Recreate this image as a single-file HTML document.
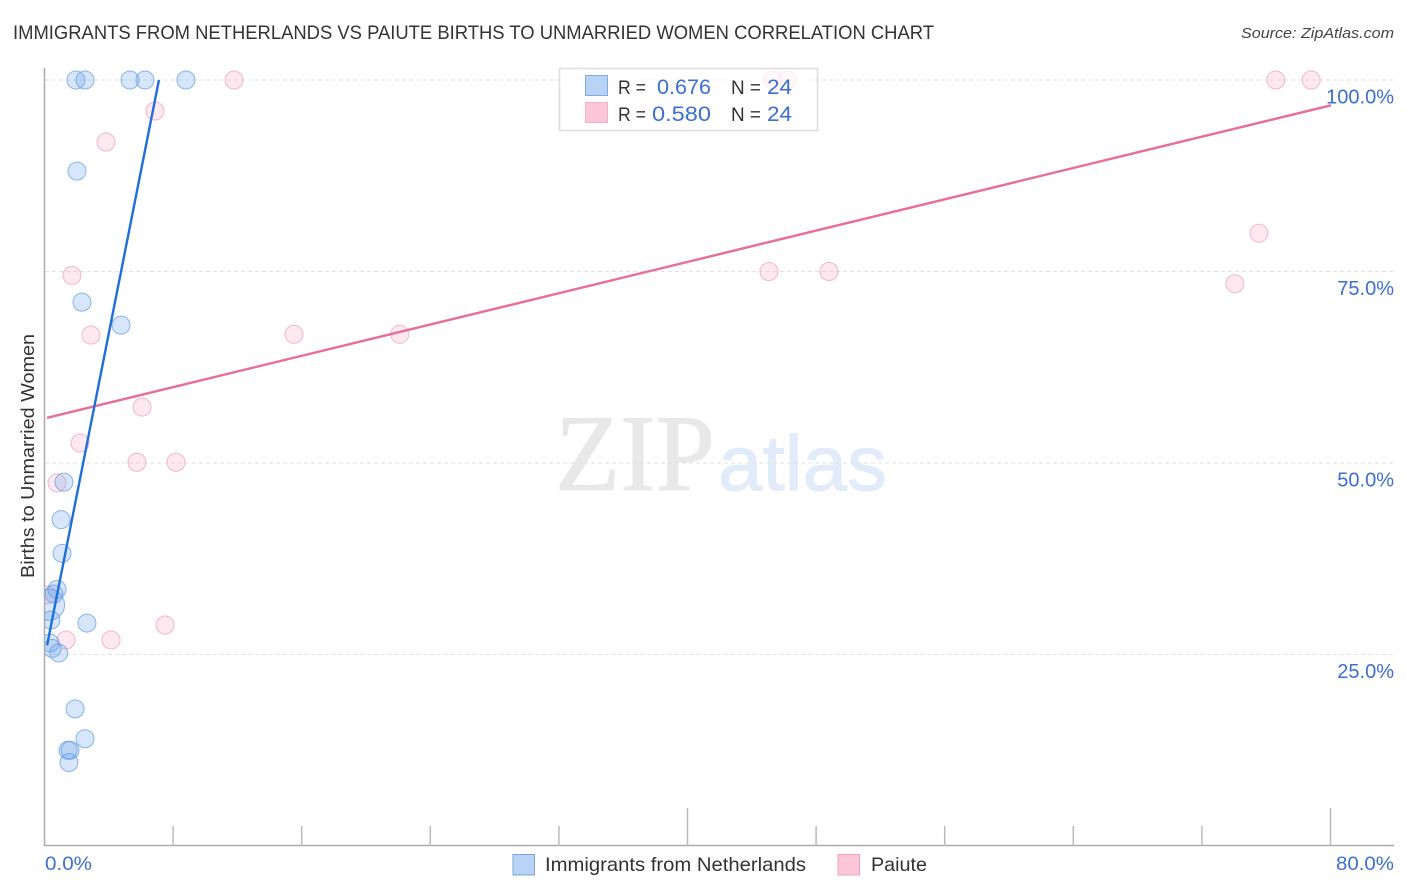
<!DOCTYPE html>
<html lang="en">
<head>
<meta charset="utf-8">
<title>Immigrants from Netherlands vs Paiute Births to Unmarried Women Correlation Chart</title>
<style>
html,body{margin:0;padding:0;background:#fff;}
svg{display:block;font-family:"Liberation Sans",sans-serif;}
</style>
</head>
<body>
<svg id="chart" width="1406" height="892" viewBox="0 0 1406 892" xmlns="http://www.w3.org/2000/svg">
  <defs><clipPath id="plot-clip"><rect x="45" y="60" width="1349" height="786"/></clipPath></defs>
  <rect width="1406" height="892" fill="#fff"/>
  <text x="13" y="39" font-size="19" fill="#333" textLength="921" lengthAdjust="spacingAndGlyphs">IMMIGRANTS FROM NETHERLANDS VS PAIUTE BIRTHS TO UNMARRIED WOMEN CORRELATION CHART</text>
  <text x="1241" y="38" font-size="15" font-style="italic" fill="#444" textLength="153" lengthAdjust="spacingAndGlyphs">Source: ZipAtlas.com</text>
  <g>
    <text x="555" y="490" font-family="'Liberation Serif',serif" font-size="109" fill="#e8e8e8" stroke="#e8e8e8" stroke-width="1" textLength="160" lengthAdjust="spacingAndGlyphs">ZIP</text>
    <text x="718" y="490" font-size="78" fill="#e2ebf9" stroke="#e2ebf9" stroke-width="1" textLength="169" lengthAdjust="spacingAndGlyphs">atlas</text>
  </g>
  <g id="grid"></g>
  <g id="axes"></g>
  <g id="points" clip-path="url(#plot-clip)"></g>
  <g id="trends"></g>
  <g id="ylabels"></g>
  <text transform="translate(34,578) rotate(-90)" font-size="18.5" fill="#333" textLength="244" lengthAdjust="spacingAndGlyphs">Births to Unmarried Women</text>
  <text x="45" y="870" font-size="19.5" fill="#3b6fd1" textLength="47" lengthAdjust="spacingAndGlyphs">0.0%</text>
  <text x="1336" y="870" font-size="19.5" fill="#3b6fd1" textLength="58" lengthAdjust="spacingAndGlyphs">80.0%</text>

  <g>
    <rect x="559.5" y="68.5" width="258" height="62" fill="#fff" fill-opacity="0.72" stroke="#ddd" stroke-width="1.5"/>
    <rect x="585.5" y="75.5" width="22" height="20" fill="#b9d3f7" stroke="#7eaae6" stroke-width="1"/>
    <rect x="585.5" y="102.5" width="22" height="20" fill="#fcc6d8" stroke="#f4afc6" stroke-width="1"/>
    <text x="618" y="94" font-size="19" fill="#333" textLength="28" lengthAdjust="spacingAndGlyphs">R =</text>
    <text x="657" y="94" font-size="21" fill="#3b6fd1" textLength="54" lengthAdjust="spacingAndGlyphs">0.676</text>
    <text x="731" y="94" font-size="19" fill="#333" textLength="30" lengthAdjust="spacingAndGlyphs">N =</text>
    <text x="767" y="94" font-size="21" fill="#3b6fd1" textLength="25" lengthAdjust="spacingAndGlyphs">24</text>
    <text x="618" y="121" font-size="19" fill="#333" textLength="28" lengthAdjust="spacingAndGlyphs">R =</text>
    <text x="652" y="121" font-size="21" fill="#3b6fd1" textLength="59" lengthAdjust="spacingAndGlyphs">0.580</text>
    <text x="731" y="121" font-size="19" fill="#333" textLength="30" lengthAdjust="spacingAndGlyphs">N =</text>
    <text x="767" y="121" font-size="21" fill="#3b6fd1" textLength="25" lengthAdjust="spacingAndGlyphs">24</text>
  </g>

  <g>
    <g>
      <rect x="513" y="854.5" width="21.5" height="20.5" fill="#b9d3f7" stroke="#7ea3d8" stroke-width="1"/>
      <text x="545" y="871" font-size="19.5" fill="#333" textLength="261" lengthAdjust="spacingAndGlyphs">Immigrants from Netherlands</text>
    </g>
    <g>
      <rect x="838" y="854.5" width="21.5" height="20.5" fill="#fcc6d8" stroke="#f0a0bc" stroke-width="1"/>
      <text x="871" y="871" font-size="19.5" fill="#333" textLength="56" lengthAdjust="spacingAndGlyphs">Paiute</text>
    </g>
  </g>
</svg>
<script>
// Values (x = % foreign-born group, y = % births to unmarried women)
const netherlandsX = [1.96,2.52,5.32,6.25,8.80,2.02,2.33,4.76,1.21,1.03,1.09,0.78,0.59,0.28,0.40,2.64,0.34,0.47,0.88,1.90,2.52,1.46,1.59,1.52];
const netherlandsY = [100,100,100,100,100,88.1,71.0,68.0,47.5,42.6,38.2,33.5,32.9,31.5,29.5,29.1,26.5,25.8,25.2,17.9,14.0,12.5,12.5,10.9];
const netherlandsWeight = [1,1,1,1,1,1,1,1,1,1,1,1,1,3,1,1,1,1,1,1,1,1,1,1];
const paiuteX = [11.79,45.32,46.19,76.6,78.8,6.87,3.83,1.71,2.89,15.52,22.1,45.07,48.8,75.55,74.05,6.07,2.21,5.75,8.18,0.78,0.16,1.34,4.14,7.5];
const paiuteY = [100,100,100,100,100,95.95,91.9,74.5,66.7,66.8,66.8,75,75,80.0,73.4,57.3,52.6,50.1,50.1,47.4,32.8,26.9,26.9,28.85];
const netherlandsTrendX = [0.16,7.12];
const netherlandsTrendY = [26.2,100];
const paiuteTrendX = [0.16,80.03];
const paiuteTrendY = [55.9,96.7];
const yTicks = [100,75,50,25];
const yTickLabels = ["100.0%","75.0%","50.0%","25.0%"];
const xTicks = [8,16,24,32,40,48,56,64,72,80];

const NS = "http://www.w3.org/2000/svg";
const sx = v => 44.5 + v * 16.075;
const sy = v => 846 - v * 7.66;
function mk(parent, tag, attrs) {
  const el = document.createElementNS(NS, tag);
  for (const k in attrs) el.setAttribute(k, attrs[k]);
  parent.appendChild(el);
  return el;
}
const grid = document.getElementById("grid");
const axes = document.getElementById("axes");
const points = document.getElementById("points");
const trends = document.getElementById("trends");
const ylabels = document.getElementById("ylabels");

yTicks.forEach((t, i) => {
  const line = mk(grid, "line", {x1: 45, x2: 1394, y1: sy(t), y2: sy(t), stroke: "#e2e2e2", "stroke-width": 1, "stroke-dasharray": "4 3"});
  
  
  const label = mk(ylabels, "text", {x: 1394, y: sy(t) + 23.5, "text-anchor": "end", "font-size": 20, fill: "#3b6fd1"});
  label.textContent = yTickLabels[i];
  
  
});

const yAxis = mk(axes, "line", {x1: 44.5, x2: 44.5, y1: 68, y2: 846, stroke: "#aaa", "stroke-width": 1.5});


const xAxis = mk(axes, "line", {x1: 44, x2: 1394, y1: 845.5, y2: 845.5, stroke: "#aaa", "stroke-width": 1.5});


xTicks.forEach(t => {
  const major = t % 40 === 0;
  const tick = mk(axes, "line", {x1: sx(t), x2: sx(t), y1: major ? 808 : 826, y2: 846, stroke: "#bbb", "stroke-width": 1.5});
  
  
});

paiuteX.forEach((x, i) => {
  const c = mk(points, "circle", {cx: sx(x), cy: sy(paiuteY[i]), r: 9, fill: "#f9a8c0", "fill-opacity": 0.25, stroke: "#ee9ab5", "stroke-opacity": 0.7, "stroke-width": 1});
  
  
});
netherlandsX.forEach((x, i) => {
  const c = mk(points, "circle", {cx: sx(x), cy: sy(netherlandsY[i]), r: 9 * Math.sqrt(netherlandsWeight[i]), fill: "#6ba3ec", "fill-opacity": 0.27, stroke: "#5e97e4", "stroke-opacity": 0.7, "stroke-width": 1});
  
  
});

const paiuteLine = mk(trends, "line", {x1: sx(paiuteTrendX[0]), y1: sy(paiuteTrendY[0]), x2: sx(paiuteTrendX[1]), y2: sy(paiuteTrendY[1]), stroke: "#e96d98", "stroke-width": 2.4});


const netherlandsLine = mk(trends, "line", {x1: sx(netherlandsTrendX[0]), y1: sy(netherlandsTrendY[0]), x2: sx(netherlandsTrendX[1]), y2: sy(netherlandsTrendY[1]), stroke: "#1f6fd8", "stroke-width": 2.4});


</script>
</body>
</html>
